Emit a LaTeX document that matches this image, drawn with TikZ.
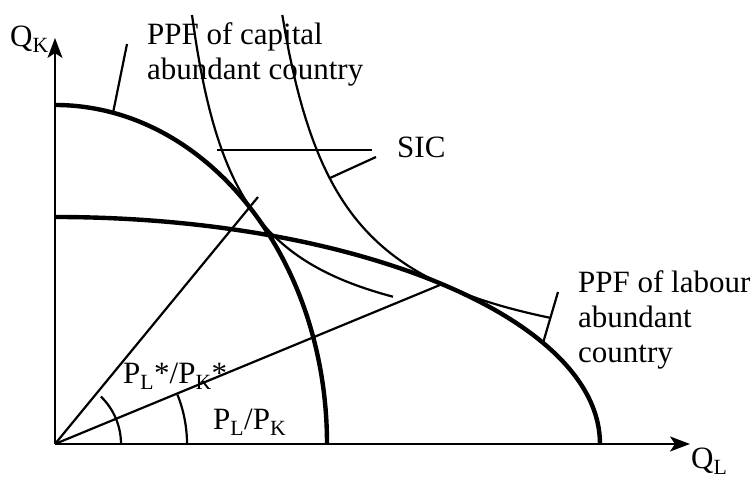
\documentclass[tikz,border=0pt]{standalone}
\usepackage{fontspec}
\setmainfont{Liberation Serif}
\usetikzlibrary{arrows.meta}

\begin{document}
\begin{tikzpicture}[x=1pt,y=1pt,>={Stealth[length=20pt,width=15pt,inset=5pt]},
  axis/.style={->,line width=2.2pt},
  ppf/.style={line width=4.4pt},
  sic/.style={line width=2.2pt},
  pointer/.style={line width=2.2pt},
  ray/.style={line width=2.2pt},
  lbl/.style={font=\fontsize{31}{35}\selectfont,inner sep=0pt,align=left}]
  \useasboundingbox (-55,-34) rectangle (701,444);
  % axes
  \coordinate (O) at (0,0);
  \coordinate (ytip) at (0,406);
  \coordinate (xtip) at (635,0);
  \draw[axis] (O) -- (ytip);
  \draw[axis] (O) -- (xtip);
  \node[lbl,anchor=base west] (qk) at (-45,397) {Q\textsubscript{K}};
  \node[lbl,anchor=base west] (ql) at (636,-25) {Q\textsubscript{L}};
  % production possibility frontiers
  \draw[ppf] (0,339) arc[start angle=90,end angle=0,x radius=272,y radius=339];
  \draw[ppf] (0,227) arc[start angle=90,end angle=0,x radius=545,y radius=227];
  % social indifference curves
  \draw[sic] plot[domain=137:338,samples=80] (\x,{81.4+163.37*(100/(\x-90))});
  \draw[sic] plot[domain=227.3:495,samples=80] (\x,{58+223.75*(100/(\x-167))});
  % price lines and angles
  \coordinate (tanCap) at (203,247);
  \coordinate (tanLab) at (385,159);
  \draw[ray] (O) -- (tanCap);
  \draw[ray] (O) -- (tanLab);
  \draw[ray] (66,0) arc[start angle=0,end angle=46,radius=66];
  \draw[ray] (132,0) arc[start angle=0,end angle=22,radius=132];
  \node[lbl,anchor=base west] (ratioStar) at (68,60) {P\textsubscript{L}*/P\textsubscript{K}*};
  \node[lbl,anchor=base west] (ratio) at (158,14) {P\textsubscript{L}/P\textsubscript{K}};
  % labels and pointers
  \node[lbl,anchor=base west] (capLbl) at (92,364) {PPF of capital\\abundant country};
  \node[lbl,anchor=base west] (labLbl) at (523,81) {PPF of labour\\abundant\\country};
  \node[lbl,anchor=base west] (sicLbl) at (342,286) {SIC};
  \coordinate (capPt) at (58,331);
  \coordinate (capEnd) at (72,400);
  \draw[pointer] (capPt) -- (capEnd);
  \coordinate (labPt) at (488,101);
  \coordinate (labEnd) at (503,152);
  \draw[pointer] (labPt) -- (labEnd);
  \coordinate (sicPtA) at (162,294);
  \coordinate (sicEndA) at (317,294);
  \coordinate (sicPtB) at (275,266);
  \coordinate (sicEndB) at (321,287);
  \draw[pointer] (sicPtA) -- (sicEndA);
  \draw[pointer] (sicPtB) -- (sicEndB);
\end{tikzpicture}
\end{document}
